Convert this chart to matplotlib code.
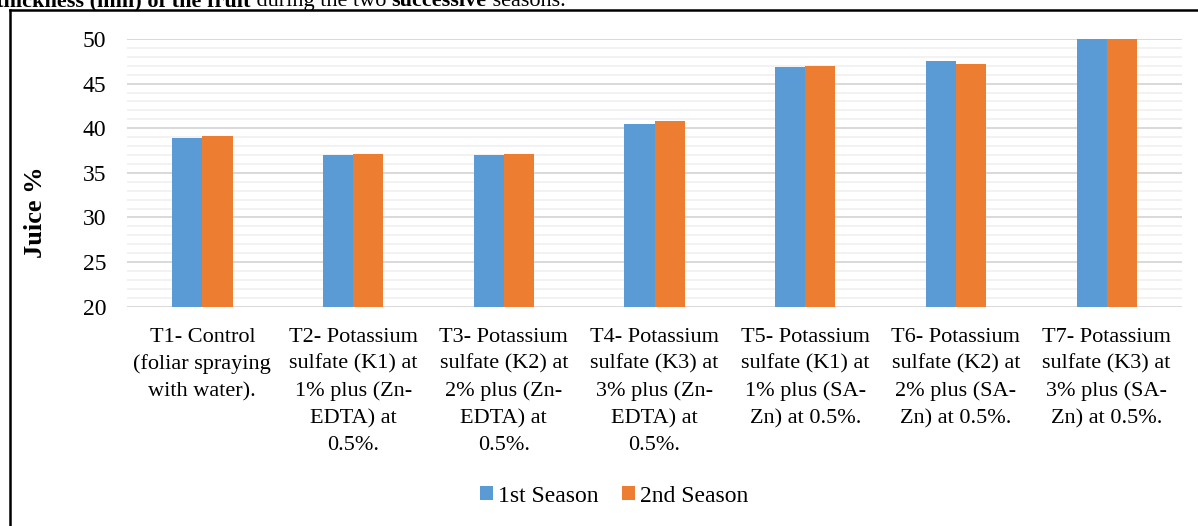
import matplotlib
matplotlib.use("Agg")
import matplotlib.pyplot as plt
from matplotlib.lines import Line2D
from matplotlib.ticker import MultipleLocator
import numpy as np

categories = [
    "T1- Control\n(foliar spraying\nwith water).",
    "T2- Potassium\nsulfate (K1) at\n1% plus (Zn-\nEDTA) at\n0.5%.",
    "T3- Potassium\nsulfate (K2) at\n2% plus (Zn-\nEDTA) at\n0.5%.",
    "T4- Potassium\nsulfate (K3) at\n3% plus (Zn-\nEDTA) at\n0.5%.",
    "T5- Potassium\nsulfate (K1) at\n1% plus (SA-\nZn) at 0.5%.",
    "T6- Potassium\nsulfate (K2) at\n2% plus (SA-\nZn) at 0.5%.",
    "T7- Potassium\nsulfate (K3) at\n3% plus (SA-\nZn) at 0.5%.",
]
season1 = [38.9, 37.0, 37.0, 40.5, 46.9, 47.5, 50.0]
season2 = [39.1, 37.1, 37.1, 40.8, 47.0, 47.2, 50.1]
series_names = ["1st Season", "2nd Season"]
colors = ["#5B9BD5", "#ED7D31"]

plt.rcParams['font.family'] = ['Liberation Serif', 'DejaVu Serif']

W, H = 1198, 526
fig = plt.figure(figsize=(W / 100, H / 100), dpi=100)
ax = fig.add_axes([127 / W, 1 - 306.7 / H, (1182 - 127) / W, (306.7 - 39) / H])

x = np.arange(len(categories))
w = 0.2
ax.bar(x - w/2, season1, w, color=colors[0], label=series_names[0], zorder=3)
ax.bar(x + w/2, season2, w, color=colors[1], label=series_names[1], zorder=3)

ax.set_ylim(20, 50)
ax.set_xlim(-0.5, len(categories) - 0.5)
ax.yaxis.set_major_locator(MultipleLocator(5))
ax.yaxis.set_minor_locator(MultipleLocator(1))
ax.grid(axis='y', which='major', color='#D9D9D9', linewidth=1.4, zorder=0)
ax.grid(axis='y', which='minor', color='#F2F2F2', linewidth=1.4, zorder=0)
for s in ax.spines.values():
    s.set_visible(False)
ax.tick_params(axis='both', which='both', length=0)
ax.tick_params(axis='y', labelsize=17, pad=15)
ax.set_xticks(x)
ax.set_xticklabels(categories, fontsize=16, linespacing=1.54)
ax.tick_params(axis='x', pad=15)
ax.set_ylabel("Juice %", fontsize=19, fontweight='bold', ha='center', va='center')
ax.yaxis.set_label_coords((35 - 127) / (1182 - 127), (306.7 - 212) / (306.7 - 39))

ax.legend(loc='center', bbox_to_anchor=(614 / W, 1 - 496 / H),
          bbox_transform=fig.transFigure, ncol=2,
          frameon=False, fontsize=17, handlelength=0.55, handleheight=0.55,
          handletextpad=0.22, columnspacing=1.0)

# frame border
fig.add_artist(Line2D([10/W, 10/W], [1 - 10/H, 0], color='black', linewidth=1.8))
fig.add_artist(Line2D([10/W, 1], [1 - 10/H, 1 - 10/H], color='black', linewidth=1.8))

# cut-off caption at top
parts = [("thickness (mm) of the fruit", 'bold'), (" during the two ", 'normal'),
         ("successive", 'bold'), (" seasons.", 'normal')]
fig.canvas.draw()
xpos = -4 / W
rend = fig.canvas.get_renderer()
for txt, wt in parts:
    t = fig.text(xpos, 1 - 6/H, txt, fontsize=16, fontweight=wt, ha='left', va='baseline')
    bb = t.get_window_extent(renderer=rend)
    xpos += bb.width / fig.bbox.width

fig.savefig("out.png", dpi=100)
